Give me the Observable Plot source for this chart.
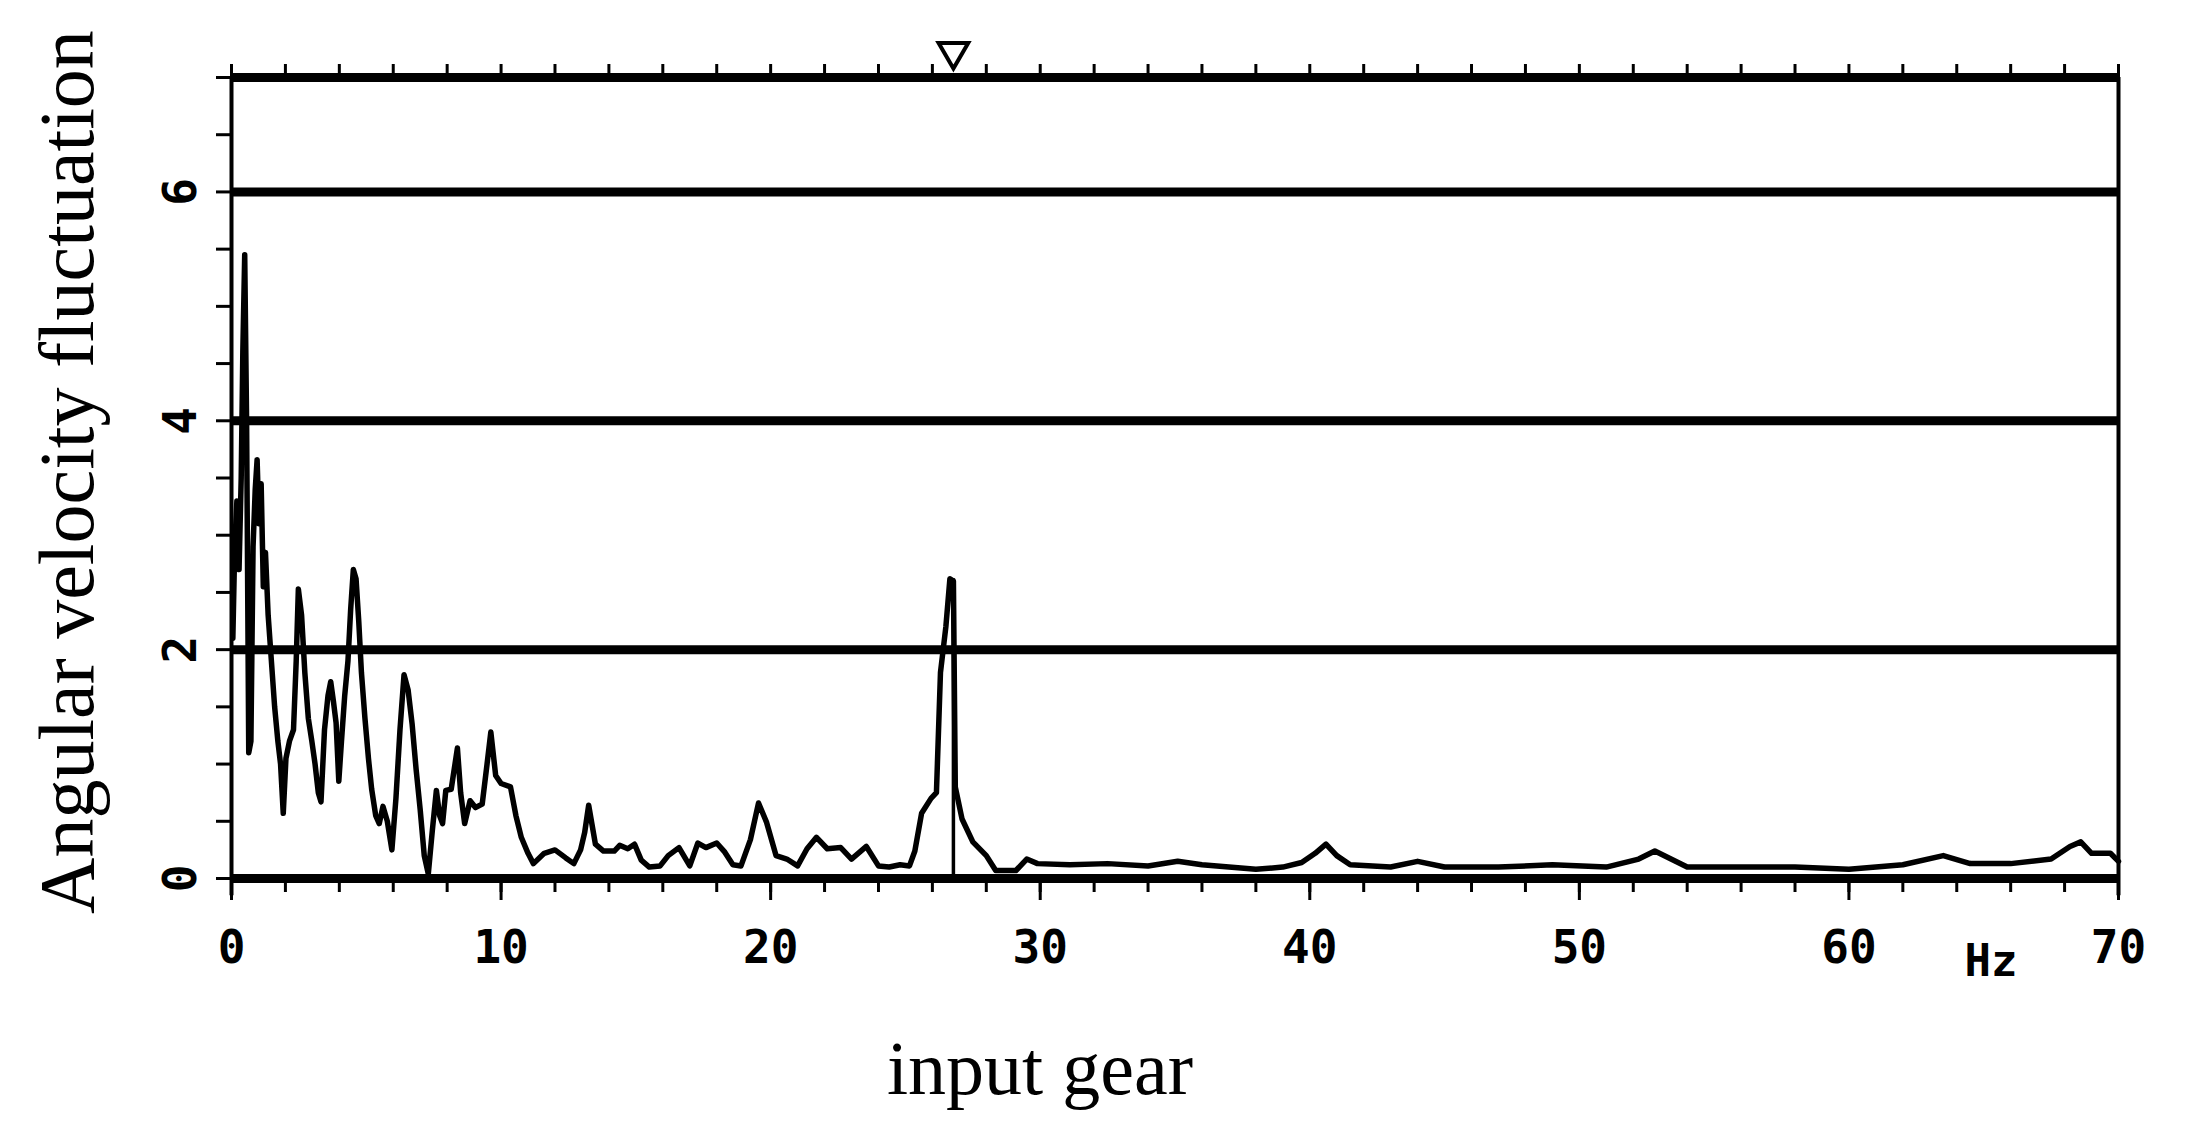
<!DOCTYPE html>
<html>
<head>
<meta charset="utf-8">
<script src="https://cdn.jsdelivr.net/npm/d3@7"></script>
<script src="https://cdn.jsdelivr.net/npm/@observablehq/plot@0.6"></script>
<style>
  html, body { margin: 0; padding: 0; background: #fff; }
  #chart { width: 2199px; height: 1122px; overflow: hidden; }
</style>
</head>
<body>
<div id="chart"></div>
<script>
// ---- data ----
const freqHz = [
  0.05, 0.12, 0.2, 0.28, 0.36, 0.42, 0.49, 0.56, 0.64, 0.72, 0.8, 0.88, 0.95, 1.02, 1.1, 1.18, 1.26, 1.36, 1.48, 1.6,
  1.72, 1.82, 1.92, 2.02, 2.15, 2.3, 2.4, 2.48, 2.6, 2.72, 2.85, 2.98, 3.1, 3.22, 3.32, 3.45, 3.58, 3.68, 3.78, 3.88,
  3.98, 4.08, 4.2, 4.32, 4.42, 4.52, 4.62, 4.72, 4.82, 4.95, 5.08, 5.2, 5.35, 5.48, 5.62, 5.78, 5.95, 6.1, 6.25, 6.4,
  6.55, 6.7, 6.85, 7.0, 7.15, 7.3, 7.45, 7.6, 7.72, 7.83, 7.95, 8.15, 8.38, 8.5, 8.65, 8.85, 9.05, 9.3, 9.48, 9.62,
  9.8, 10.0, 10.35, 10.55, 10.75, 11.0, 11.2, 11.6, 12.0, 12.4, 12.7, 12.95, 13.1, 13.25, 13.5, 13.8, 14.2, 14.4, 14.7, 14.95,
  15.2, 15.5, 15.9, 16.2, 16.6, 17.0, 17.3, 17.6, 18.0, 18.3, 18.6, 18.9, 19.25, 19.55, 19.85, 20.2, 20.6, 21.0, 21.35, 21.7,
  22.1, 22.6, 23.0, 23.55, 24.0, 24.4, 24.8, 25.15, 25.35, 25.6, 25.95, 26.15, 26.3, 26.5, 26.65, 26.78, 26.85, 27.1, 27.5, 28.0,
  28.35, 29.1, 29.5, 29.9, 31.1, 32.5, 34.0, 35.1, 36.0, 37.0, 38.0, 39.0, 39.7, 40.2, 40.6, 41.0, 41.5, 43.0, 44.0, 45.0,
  47.0, 49.0, 51.0, 52.2, 52.8, 53.4, 54.0, 56.0, 58.0, 60.0, 62.0, 63.5, 64.5, 66.0, 67.5, 68.2, 68.6, 69.0, 69.7, 70.0
];
const amplitude = [
  2.1, 2.9, 3.3, 2.7, 3.5, 4.6, 5.45, 4.0, 1.1, 1.2, 2.9, 3.4, 3.66, 3.1, 3.45, 2.55, 2.85, 2.3, 1.9, 1.5,
  1.2, 1.0, 0.57, 1.05, 1.2, 1.3, 1.9, 2.53, 2.3, 1.8, 1.4, 1.2, 1.0, 0.75, 0.67, 1.3, 1.6, 1.72, 1.55, 1.36,
  0.85, 1.2, 1.6, 1.9, 2.35, 2.7, 2.62, 2.25, 1.8, 1.4, 1.05, 0.78, 0.55, 0.48, 0.63, 0.5, 0.25, 0.7, 1.3, 1.78,
  1.65, 1.35, 0.95, 0.6, 0.2, 0.04, 0.42, 0.77, 0.55, 0.48, 0.77, 0.78, 1.14, 0.75, 0.48, 0.68, 0.62, 0.65, 1.0, 1.28,
  0.9, 0.83, 0.8, 0.55, 0.36, 0.22, 0.13, 0.22, 0.25, 0.18, 0.13, 0.25, 0.4, 0.64, 0.3, 0.24, 0.24, 0.29, 0.26, 0.3,
  0.16, 0.1, 0.11, 0.2, 0.27, 0.11, 0.31, 0.27, 0.31, 0.23, 0.12, 0.11, 0.34, 0.66, 0.49, 0.2, 0.17, 0.11, 0.26, 0.36,
  0.26, 0.27, 0.17, 0.28, 0.11, 0.1, 0.12, 0.11, 0.24, 0.57, 0.7, 0.75, 1.8, 2.2, 2.62, 2.6, 0.8, 0.52, 0.32, 0.2,
  0.07, 0.07, 0.17, 0.13, 0.12, 0.13, 0.11, 0.15, 0.12, 0.1, 0.08, 0.1, 0.14, 0.22, 0.3, 0.2, 0.12, 0.1, 0.15, 0.1,
  0.1, 0.12, 0.1, 0.17, 0.24, 0.17, 0.1, 0.1, 0.1, 0.08, 0.12, 0.2, 0.13, 0.13, 0.17, 0.28, 0.32, 0.22, 0.22, 0.15
];
const markerHz = [26.78];          // mesh-frequency marker (∇ and vertical line)
const markerPeak = [2.62];
const xTickValues = [0, 10, 20, 30, 40, 50, 60, 70];
const xMinorTicks = [0, 2, 4, 6, 8, 10, 12, 14, 16, 18, 20, 22, 24, 26, 28, 30, 32, 34, 36, 38, 40, 42, 44, 46, 48, 50, 52, 54, 56, 58, 60, 62, 64, 66, 68, 70];
const yTickValues = [0, 2, 4, 6];
const yMinorTicks = [0, 0.5, 1, 1.5, 2, 2.5, 3, 3.5, 4, 4.5, 5, 5.5, 6, 6.5, 7];
const gridLevels = [0, 2, 4, 6, 7];
const yTitle = "Angular velocity fluctuation";
const xTitle = "input gear";
const xUnit = "Hz";

const series = freqHz.map((f, i) => ({f, a: amplitude[i]}));

const mono = "'DejaVu Sans Mono', monospace";
const serif = "'Liberation Serif', 'DejaVu Serif', serif";

const chart = Plot.plot({
  width: 2199,
  height: 1122,
  marginLeft: 231,
  marginRight: 81,
  marginTop: 77,
  marginBottom: 244,
  x: {domain: [0, 70], axis: null},
  y: {domain: [0, 7], axis: null},
  style: {background: "#fff", color: "#000"},
  marks: [
    // heavy horizontal level lines
    Plot.ruleY(gridLevels, {stroke: "#000", strokeWidth: 9}),
    // left and right frame lines
    Plot.ruleX([0, 70], {y1: -0.15, y2: 7, stroke: "#000", strokeWidth: 4}),
    // minor ticks
    Plot.axisX({anchor: "bottom", ticks: xMinorTicks, tickSize: 14, tickFormat: () => "", strokeWidth: 3, label: null}),
    Plot.axisX({anchor: "top", ticks: xMinorTicks, tickSize: 14, tickFormat: () => "", strokeWidth: 3, label: null}),
    Plot.axisY({anchor: "left", ticks: yMinorTicks, tickSize: 15, tickFormat: () => "", strokeWidth: 3, label: null}),
    // major x ticks and labels
    Plot.axisX({anchor: "bottom", ticks: xTickValues, tickSize: 22, tickPadding: 30, tickFormat: d => String(d),
      fontSize: 46, fontFamily: mono, fontWeight: "bold", strokeWidth: 3, label: null}),
    // rotated y tick labels
    Plot.text(yTickValues, {y: d => d, text: d => String(d), frameAnchor: "left", dx: -50, rotate: -90,
      textAnchor: "middle", lineAnchor: "middle", fontSize: 46, fontFamily: mono, fontWeight: "bold", fill: "#000"}),
    // the spectrum
    Plot.line(series, {x: "f", y: "a", stroke: "#000", strokeWidth: 5.5, strokeLinejoin: "round"}),
    // marker line at mesh frequency
    Plot.ruleX(markerHz, {y1: 0, y2: markerPeak[0], stroke: "#000", strokeWidth: 3.5}),
    // ∇ marker above the top line
    Plot.dot(markerHz, {x: d => d, y: 7, symbol: "triangle", rotate: 180, r: 11, fill: "#fff", stroke: "#000", strokeWidth: 4, dy: -26}),
    // unit label
    Plot.text([xUnit], {frameAnchor: "bottom-right", dx: -101, dy: 97, fontSize: 44, fontFamily: mono, fontWeight: "bold", fill: "#000"}),
    // axis titles
    Plot.text([yTitle], {frameAnchor: "left", dx: -163, dy: -6, rotate: -90, textAnchor: "middle", lineAnchor: "middle",
      fontSize: 78, fontFamily: serif, fill: "#000"}),
    Plot.text([xTitle], {frameAnchor: "bottom", dx: -135, dy: 191, textAnchor: "middle", lineAnchor: "middle",
      fontSize: 76, fontFamily: serif, fill: "#000"})
  ]
});
document.getElementById("chart").appendChild(chart);
</script>
</body>
</html>
